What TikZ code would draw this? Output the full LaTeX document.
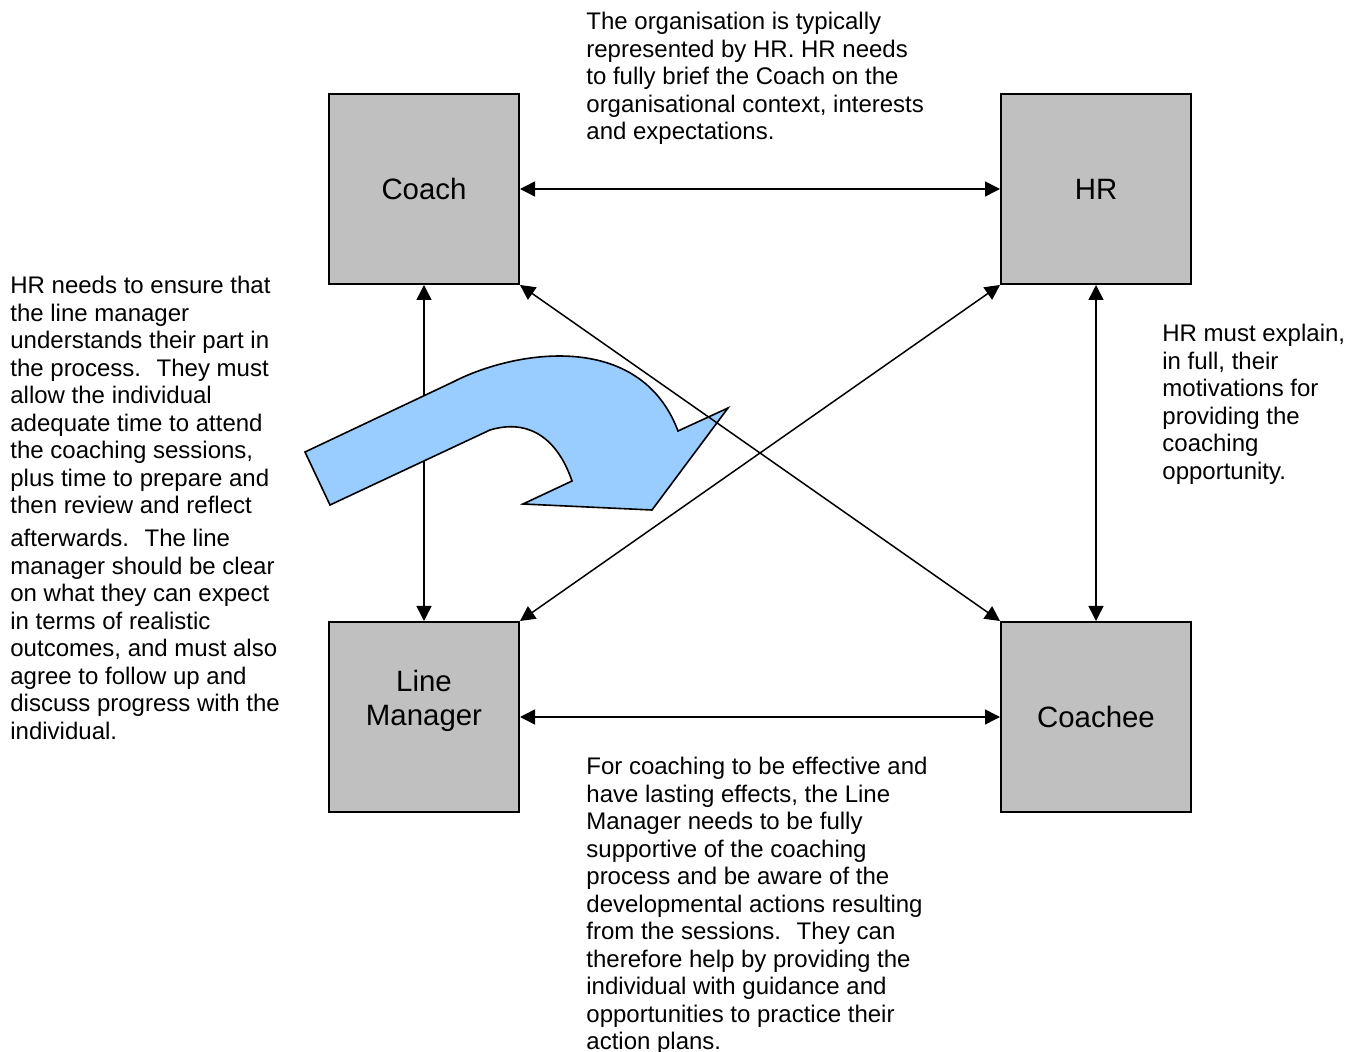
\documentclass[tikz,border=0pt]{standalone}
\usepackage{fontspec}
\setmainfont{Liberation Sans}
\usetikzlibrary{arrows.meta}
\definecolor{boxgray}{HTML}{C0C0C0}
\definecolor{turnblue}{HTML}{99CCFF}
\tikzset{
  card/.style={draw,line width=1pt,fill=boxgray,minimum size=95pt,inner sep=0pt,
    font=\fontsize{14.7}{17}\selectfont,align=center},
  cardtext/.style={inner sep=0pt,font=\fontsize{14.7}{17}\selectfont,align=center},
  note/.style={anchor=north west,inner sep=0pt,align=left,font=\fontsize{12}{13.75}\selectfont},
  link/.style={line width=0.75pt,{Triangle[length=7.5pt,width=7.5pt]}-{Triangle[length=7.5pt,width=7.5pt]}},
}
\begin{document}
\begin{tikzpicture}[x=0.5pt,y=-0.5pt]
  \useasboundingbox (0,0) rectangle (1360,1052);
  % the four parties
  \node[card] (coach) at (424,189) {Coach};
  \node[card] (hr) at (1096,189) {HR};
  \node[card] (lm) at (424,717) {};
  \node[card] (coachee) at (1096,717) {Coachee};
  \node[cardtext] (lmtext) at ([yshift=8pt]lm.center) {Line\\Manager};
  \draw[link] (coach.south) -- (lm.north);
  % curved block arrow
  \draw[line width=0.8pt,fill=turnblue,line join=miter]
    (305,452) -- (453,382) .. controls (515,350) and (640,330) .. (678,431)
    -- (728,408) -- (652,510) -- (523,504) -- (572,481)
    .. controls (558,440) and (530,418) .. (490,430) -- (330,505) -- cycle;
  \draw[link] (coach.east) -- (hr.west);
  \draw[link] (lm.east) -- (coachee.west);
  \draw[link] (hr.south) -- (coachee.north);
  \draw[link] (coach.south east) -- (coachee.north west);
  \draw[link] (lm.north east) -- (hr.south west);
  % notes
  \node[note] (toptext) at (586,12) {The organisation is typically\\represented by HR. HR needs\\to fully brief the Coach on the\\organisational context, interests\\and expectations.};
  \node[note] (righttext) at (1162,324) {HR must explain,\\in full, their\\motivations for\\providing the\\coaching\\opportunity.};
  \node[note] (lefttext) at (10,276) {HR needs to ensure that\\the line manager\\understands their part in\\the process.~ They must\\allow the individual\\adequate time to attend\\the coaching sessions,\\plus time to prepare and\\then review and reflect\\[2.75pt]afterwards.~ The line\\manager should be clear\\on what they can expect\\in terms of realistic\\outcomes, and must also\\agree to follow up and\\discuss progress with the\\individual.};
  \node[note] (bottomtext) at (586,757) {For coaching to be effective and\\have lasting effects, the Line\\Manager needs to be fully\\supportive of the coaching\\process and be aware of the\\developmental actions resulting\\from the sessions.~ They can\\therefore help by providing the\\individual with guidance and\\opportunities to practice their\\action plans.};
\end{tikzpicture}
\end{document}
